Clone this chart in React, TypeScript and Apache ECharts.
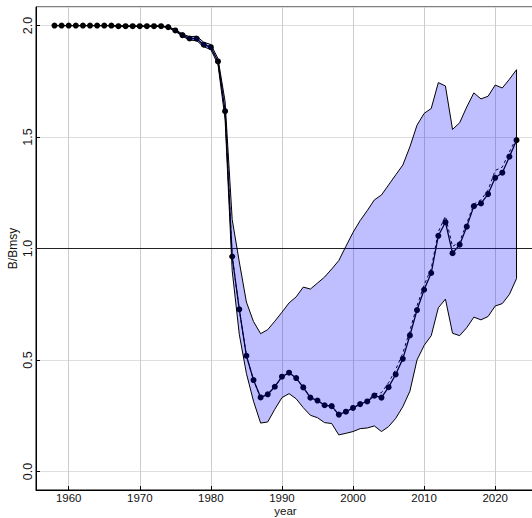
import React, { useEffect, useRef } from "react";
import * as echarts from "echarts";

const years = [
  1958, 1959, 1960, 1961, 1962, 1963, 1964, 1965, 1966, 1967, 1968, 1969, 1970, 1971, 1972, 1973,
  1974, 1975, 1976, 1977, 1978, 1979, 1980, 1981, 1982, 1983, 1984, 1985, 1986, 1987, 1988, 1989,
  1990, 1991, 1992, 1993, 1994, 1995, 1996, 1997, 1998, 1999, 2000, 2001, 2002, 2003, 2004, 2005,
  2006, 2007, 2008, 2009, 2010, 2011, 2012, 2013, 2014, 2015, 2016, 2017, 2018, 2019, 2020, 2021,
  2022, 2023,
];

// B/Bmsy estimate (solid line with points)
const bBmsy = [
  2.0, 2.0, 2.0, 2.0, 2.0, 2.0, 2.0, 2.0, 2.0, 1.997, 1.997, 1.997, 1.997, 1.997, 1.997, 1.997,
  1.993, 1.978, 1.957, 1.942, 1.941, 1.914, 1.903, 1.839, 1.616, 0.964, 0.727, 0.519, 0.41, 0.332, 0.346, 0.38,
  0.425, 0.443, 0.419, 0.377, 0.331, 0.318, 0.297, 0.293, 0.255, 0.268, 0.285, 0.302, 0.314, 0.34, 0.331, 0.378,
  0.435, 0.505, 0.61, 0.724, 0.815, 0.89, 1.057, 1.118, 0.979, 1.017, 1.098, 1.19, 1.202, 1.244, 1.317, 1.34,
  1.412, 1.486,
];

// second estimate (dashed line)
const bBmsyDashed = [
  2.0, 2.0, 2.0, 2.0, 2.0, 2.0, 2.0, 2.0, 2.0, 1.997, 1.997, 1.997, 1.997, 1.997, 1.997, 1.997,
  1.993, 1.978, 1.957, 1.942, 1.941, 1.914, 1.903, 1.839, 1.616, 0.964, 0.727, 0.519, 0.41, 0.332, 0.346, 0.38,
  0.425, 0.443, 0.419, 0.377, 0.331, 0.318, 0.297, 0.293, 0.255, 0.268, 0.285, 0.302, 0.314, 0.348, 0.353, 0.398,
  0.457, 0.53, 0.632, 0.743, 0.836, 0.91, 1.075, 1.145, 1.009, 1.03, 1.113, 1.199, 1.218, 1.262, 1.35, 1.365,
  1.433, 1.496,
];

// uncertainty band
const upper = [
  2.0, 2.0, 2.0, 2.0, 2.0, 2.0, 2.0, 2.0, 2.0, 1.997, 1.997, 1.997, 1.997, 1.997, 1.997, 1.997,
  1.995, 1.982, 1.962, 1.95, 1.952, 1.925, 1.915, 1.852, 1.66, 1.13, 0.94, 0.76, 0.672, 0.618, 0.636, 0.674,
  0.714, 0.756, 0.783, 0.827, 0.818, 0.845, 0.872, 0.908, 0.946, 1.01, 1.072, 1.125, 1.17, 1.218, 1.24, 1.285,
  1.33, 1.374, 1.456, 1.553, 1.606, 1.628, 1.744, 1.729, 1.534, 1.564, 1.635, 1.698, 1.671, 1.683, 1.733, 1.72,
  1.759, 1.802,
];

const lower = [
  2.0, 2.0, 2.0, 2.0, 2.0, 2.0, 2.0, 2.0, 2.0, 1.997, 1.997, 1.997, 1.997, 1.997, 1.997, 1.997,
  1.99, 1.974, 1.952, 1.935, 1.932, 1.905, 1.892, 1.826, 1.58, 0.9, 0.615, 0.44, 0.315, 0.217, 0.222, 0.279,
  0.331, 0.349, 0.326, 0.286, 0.252, 0.241, 0.219, 0.215, 0.164, 0.171, 0.179, 0.192, 0.195, 0.204, 0.179, 0.201,
  0.238, 0.29, 0.36, 0.5, 0.565, 0.609, 0.734, 0.773, 0.62, 0.609, 0.645, 0.692, 0.68, 0.695, 0.742, 0.753,
  0.794, 0.865,
];

const refLevel = 1.0;
const xRange = [1955.4, 2025.6];
const yRange = [-0.0832, 2.0832];

const FONT = "'Liberation Sans', Arial, Helvetica, sans-serif";

export default function App() {
  const ref = useRef<HTMLDivElement>(null);

  useEffect(() => {
    if (!ref.current) return;
    const chart = echarts.init(ref.current, undefined, { renderer: "svg" });
    const solidData = years.map((y, i) => [y, bBmsy[i]]);
    const dashedData = years.map((y, i) => [y, bBmsyDashed[i]]);

    chart.setOption({
      animation: false,
      backgroundColor: "#ffffff",
      textStyle: { fontFamily: FONT },
      grid: {
        left: 36,
        top: 7,
        right: -3,
        bottom: 28,
        containLabel: false,
        outerBoundsMode: "none",
        show: true,
        borderColor: "#000",
        borderWidth: 1,
        backgroundColor: "transparent",
      },
      xAxis: {
        type: "value",
        min: xRange[0],
        max: xRange[1],
        splitNumber: 7,
        minInterval: 10,
        maxInterval: 10,
        name: "year",
        nameLocation: "middle",
        nameGap: 15,
        nameMoveOverlap: false,
        nameTextStyle: { fontSize: 11.5, color: "#111", fontFamily: FONT },
        axisLine: { show: true, onZero: false, lineStyle: { color: "#000", width: 1 } },
        axisTick: { show: true, inside: true, length: 4, lineStyle: { color: "#000" } },
        axisLabel: {
          showMinLabel: false,
          showMaxLabel: false,
          margin: 2,
          fontSize: 11.5,
          color: "#111",
          fontFamily: FONT,
          formatter: (v: number) => String(Math.round(v)),
        },
        splitLine: { show: true, lineStyle: { color: "#cccccc", width: 1 } },
      },
      yAxis: {
        type: "value",
        min: yRange[0],
        max: yRange[1],
        name: "B/Bmsy",
        nameLocation: "middle",
        nameRotate: 90,
        nameGap: 17,
        nameMoveOverlap: false,
        nameTextStyle: { fontSize: 12, color: "#111", fontFamily: FONT },
        axisLine: { show: true, onZero: false, lineStyle: { color: "#000", width: 1 } },
        axisTick: { show: true, inside: true, length: 4, lineStyle: { color: "#000" } },
        axisLabel: {
          showMinLabel: false,
          showMaxLabel: false,
          rotate: 90,
          margin: 2,
          fontSize: 12.5,
          color: "#111",
          fontFamily: FONT,
          formatter: (v: number) => v.toFixed(1),
        },
        splitLine: { show: true, lineStyle: { color: "#dddddd", width: 1 } },
      },
      series: [
        {
          name: "dashed",
          type: "line",
          data: dashedData,
          showSymbol: false,
          symbol: "none",
          z: 3,
          lineStyle: { color: "#000", width: 1, type: [3, 3] },
          silent: true,
        },
        {
          name: "B/Bmsy",
          type: "line",
          data: solidData,
          symbol: "circle",
          symbolSize: 6,
          z: 4,
          itemStyle: { color: "#000" },
          lineStyle: { color: "#000", width: 1.3 },
          silent: true,
          markLine: {
            silent: true,
            symbol: "none",
            label: { show: false },
            lineStyle: { color: "#222", width: 1, type: "solid" },
            data: [{ yAxis: refLevel }],
          },
        },
        {
          name: "band",
          type: "custom",
          z: 6,
          silent: true,
          data: [[years[0], upper[0]]],
          renderItem: (params: any, api: any) => {
            const pts: number[][] = [];
            for (let i = 0; i < years.length; i++) pts.push(api.coord([years[i], upper[i]]));
            for (let i = years.length - 1; i >= 0; i--) pts.push(api.coord([years[i], lower[i]]));
            return {
              type: "polygon",
              shape: { points: pts },
              style: { fill: "rgba(0,0,255,0.25)", stroke: "#000", lineWidth: 1 },
            };
          },
        },
      ],
    });
    return () => chart.dispose();
  }, []);

  return (
    <div
      ref={ref}
      style={{ position: "fixed", left: 0, top: 0, width: 532, height: 518, background: "#fff" }}
    />
  );
}
